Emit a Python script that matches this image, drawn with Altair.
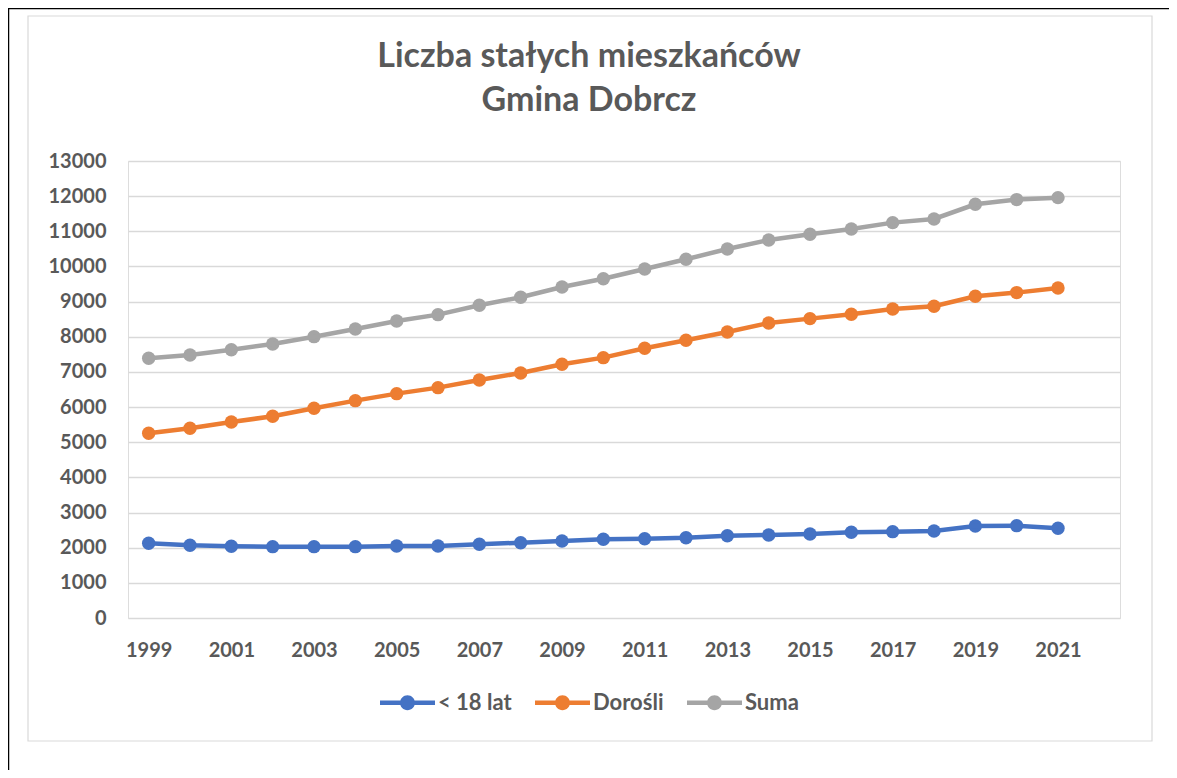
import altair as alt
import pandas as pd

years = list(range(1999, 2022))
mlodzi = [2125, 2068, 2040, 2030, 2030, 2030, 2048, 2048, 2097, 2142, 2191, 2239,
          2256, 2285, 2342, 2361, 2390, 2437, 2456, 2475, 2617, 2627, 2552]
dorosli = [5254, 5396, 5576, 5737, 5965, 6183, 6382, 6553, 6771, 6970, 7217, 7406,
           7672, 7900, 8137, 8393, 8516, 8641, 8791, 8867, 9152, 9256, 9388]
suma = [7388, 7482, 7633, 7795, 8003, 8222, 8450, 8629, 8896, 9124, 9417, 9650,
        9929, 10204, 10498, 10754, 10915, 11067, 11247, 11351, 11769, 11902, 11958]
series_names = ["< 18 lat", "Dorośli", "Suma"]
series_colors = ["#4472C4", "#ED7D31", "#A5A5A5"]
y_ticks = list(range(0, 14000, 1000))
x_ticks = list(range(1999, 2022, 2))
title_lines = ["Liczba stałych mieszkańców", "Gmina Dobrcz"]

rows = []
for name, vals in zip(series_names, [mlodzi, dorosli, suma]):
    for yr, v in zip(years, vals):
        rows.append({"rok": yr, "wartosc": v, "seria": name})
df = pd.DataFrame(rows)

FONT = "Lato"
TXT = "#595959"

legend_symbol = ("M-1,-0.08 L1,-0.08 L1,0.08 L-1,0.08 Z "
                 "M0.27,0 A0.27,0.27 0 1,1 -0.27,0 A0.27,0.27 0 1,1 0.27,0 Z")

x_enc = alt.X("rok:Q",
              scale=alt.Scale(domain=[1998.5, 2022.5], nice=False, zero=False),
              axis=alt.Axis(values=x_ticks, format="d", title=None, grid=False,
                            ticks=False, domain=False, labelFont=FONT,
                            labelFontSize=20, labelFontWeight="bold",
                            labelColor=TXT, labelPadding=22))
y_enc = alt.Y("wartosc:Q",
              scale=alt.Scale(domain=[0, 13000], nice=False),
              axis=alt.Axis(values=y_ticks, format="d", title=None, grid=True,
                            gridColor="#D9D9D9", gridWidth=1.3, ticks=False,
                            domain=False, labelFont=FONT, labelFontSize=20,
                            labelFontWeight="bold", labelColor=TXT,
                            labelPadding=22))
color_scale = alt.Scale(domain=series_names, range=series_colors)

points = alt.Chart(df).mark_point(filled=True, size=180, opacity=1).encode(
    x=x_enc, y=y_enc,
    color=alt.Color("seria:N", scale=color_scale,
                    sort=series_names,
                    legend=alt.Legend(title=None, orient="none",
                                      direction="horizontal",
                                      legendX=252, legendY=514,
                                      symbolType=legend_symbol,
                                      symbolSize=3025, symbolStrokeWidth=0,
                                      symbolOpacity=1,
                                      labelFont=FONT, labelFontSize=22,
                                      labelFontWeight="bold", labelColor=TXT,
                                      labelOffset=3, columnPadding=23)),
)
lines = alt.Chart(df).mark_line(strokeWidth=4.5).encode(
    x=x_enc, y=y_enc,
    color=alt.Color("seria:N", scale=color_scale, legend=None),
)

frame_df = pd.DataFrame({"k": [0]})
outer = alt.Chart(frame_df).mark_rect(fill="transparent", stroke="#000000",
                                      strokeWidth=1.5).encode(
    x=alt.value(-119.5), x2=alt.value(1400), y=alt.value(-152.5), y2=alt.value(900))
inner = alt.Chart(frame_df).mark_rect(fill="transparent", stroke="#D9D9D9",
                                      strokeWidth=1.2).encode(
    x=alt.value(-100), x2=alt.value(1024), y=alt.value(-145), y2=alt.value(580))
title = alt.Chart(frame_df).mark_text(
    text=title_lines, font=FONT, fontSize=34, fontWeight="bold", color=TXT,
    lineHeight=44, align="center", baseline="top").encode(
    x=alt.value(461), y=alt.value(-121))

chart = alt.layer(outer, inner, title, points, lines).properties(
    width=992, height=457,
    autosize=alt.AutoSizeParams(type="none"),
    padding={"left": 120, "top": 153, "right": 49, "bottom": 152},
).configure_view(stroke="transparent").configure(background="white")

chart.save("out.html", embed_options={"renderer": "svg", "actions": False})
